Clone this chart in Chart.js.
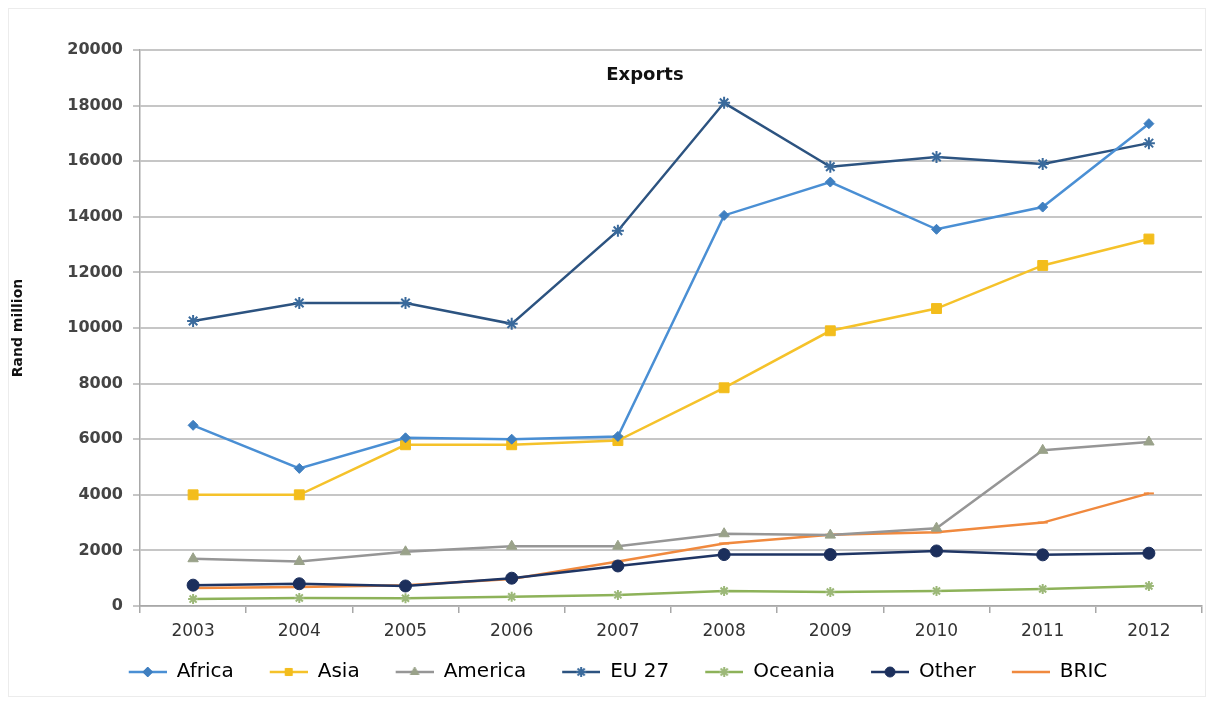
<!DOCTYPE html>
<html>
<head>
<meta charset="utf-8">
<script src="https://cdn.jsdelivr.net/npm/chart.js@4.4.1/dist/chart.umd.min.js"></script>
<style>
    html, body { margin: 0; padding: 0; background: #fff; }
    #wrap { position: relative; width: 1210px; height: 701px; }
    #frame { position: absolute; left: 8px; top: 8px; right: 4px; bottom: 4px; border: 1px solid #ececec; pointer-events: none; }
</style>
</head>
<body>
<div id="wrap">
    <canvas id="myChart" width="1210" height="701"></canvas>
    <div id="frame"></div>
</div>
<script>
const chartTitle = "Exports";
const yAxisTitle = "Rand million";
const years = ["2003", "2004", "2005", "2006", "2007", "2008", "2009", "2010", "2011", "2012"];

const africa   = [6500, 4950, 6050, 6000, 6100, 14050, 15250, 13550, 14350, 17350];
const asia     = [4000, 4000, 5800, 5800, 5950, 7850, 9900, 10700, 12250, 13200];
const america  = [1700, 1600, 1950, 2150, 2150, 2600, 2550, 2800, 5600, 5900];
const eu27     = [10250, 10900, 10900, 10150, 13500, 18100, 15800, 16150, 15900, 16650];
const oceania  = [250, 290, 280, 330, 400, 540, 500, 540, 610, 720];
const other    = [750, 800, 720, 1000, 1440, 1850, 1850, 1980, 1840, 1900];
const bric     = [650, 680, 750, 970, 1600, 2250, 2560, 2650, 3000, 4050];

const yMin = 0;
const yMax = 20000;
const yStep = 2000;

const FONT = "'DejaVu Sans', sans-serif";

function series(label, data, line, fill, style, radius) {
    return {
        label: label,
        data: data,
        borderColor: line,
        backgroundColor: fill,
        borderWidth: 2.5,
        pointStyle: style,
        pointRadius: radius,
        pointBorderColor: fill,
        pointBackgroundColor: fill,
        pointBorderWidth: style === "star" || style === "line" ? 2 : 1,
        tension: 0,
        fill: false
    };
}

const datasets = [
    series("Africa", africa, "#4a8fd4", "#3f7fc0", "rectRot", 5),
    series("Asia", asia, "#f5c22a", "#f3bd1c", "rect", 7),
    series("America", america, "#969696", "#9aa28a", "triangle", 6),
    series("EU 27", eu27, "#2c5380", "#3a6a9c", "star", 6),
    series("Oceania", oceania, "#8db259", "#9cb878", "star", 5),
    series("Other", other, "#1f3564", "#1c2f5c", "circle", 6),
    series("BRIC", bric, "#f0893e", "#f0893e", "line", 5)
];

// small canvas with a line and a marker, used as legend symbol
// (left part left blank so the legend items spread out like the original)
function legendIcon(ds) {
    const c = document.createElement("canvas");
    c.width = 54;
    c.height = 14;
    const g = c.getContext("2d");
    g.strokeStyle = ds.borderColor;
    g.lineWidth = 2.5;
    g.beginPath();
    g.moveTo(16, 7);
    g.lineTo(54, 7);
    g.stroke();
    g.fillStyle = ds.pointBackgroundColor;
    g.strokeStyle = ds.pointBorderColor;
    g.lineWidth = ds.pointBorderWidth;
    Chart.helpers.drawPoint(g, {
        pointStyle: ds.pointStyle,
        radius: Math.min(ds.pointRadius, 5),
        rotation: 0,
        borderWidth: ds.pointBorderWidth
    }, 35, 7);
    return c;
}

const titlePlugin = {
    id: "insideTitle",
    afterDraw(chart) {
        const a = chart.chartArea;
        const ctx = chart.ctx;
        ctx.save();
        ctx.font = "bold 18px " + FONT;
        ctx.fillStyle = "#111";
        ctx.textAlign = "center";
        ctx.textBaseline = "middle";
        ctx.fillText(chartTitle, (a.left + a.right) / 2 - 26, a.top + 25);
        ctx.restore();
    }
};

const ctx = document.getElementById("myChart");

new Chart(ctx, {
    type: "line",
    data: {
        labels: years,
        datasets: datasets
    },
    options: {
        responsive: false,
        animation: false,
        layout: {
            padding: { top: 50, left: 10, right: 0, bottom: 9 }
        },
        plugins: {
            title: { display: false },
            tooltip: { enabled: false },
            legend: {
                position: "bottom",
                labels: {
                    usePointStyle: true,
                    pointStyleWidth: 54,
                    padding: 20,
                    color: "#222",
                    font: { family: FONT, size: 20 },
                    generateLabels(chart) {
                        return chart.data.datasets.map((ds, i) => ({
                            text: ds.label,
                            pointStyle: legendIcon(ds),
                            fillStyle: ds.borderColor,
                            strokeStyle: ds.borderColor,
                            lineWidth: 0,
                            hidden: false,
                            datasetIndex: i
                        }));
                    }
                }
            }
        },
        scales: {
            x: {
                offset: true,
                afterFit(scale) { scale.height = 36; },
                grid: {
                    offset: true,
                    drawOnChartArea: false,
                    drawTicks: true,
                    tickLength: 7,
                    color: "#a8a8a8",
                    lineWidth: 1.5
                },
                border: { color: "#a8a8a8", width: 1.5 },
                ticks: {
                    color: "#333",
                    padding: 8,
                    font: { family: FONT, size: 17 }
                }
            },
            y: {
                min: yMin,
                max: yMax,
                afterFit(scale) { scale.width = 130; },
                ticks: {
                    stepSize: yStep,
                    color: "#444",
                    padding: 10,
                    font: { family: FONT, size: 16, weight: "bold" },
                    callback: value => String(value)
                },
                grid: {
                    color: "#c6c6c6",
                    lineWidth: 2,
                    tickLength: 7
                },
                border: { color: "#a8a8a8", width: 1.5 },
                title: {
                    display: true,
                    text: yAxisTitle,
                    color: "#111",
                    padding: { top: 0, bottom: 4 },
                    font: { family: FONT, size: 14, weight: "bold" }
                }
            }
        }
    },
    plugins: [titlePlugin]
});
</script>
</body>
</html>
